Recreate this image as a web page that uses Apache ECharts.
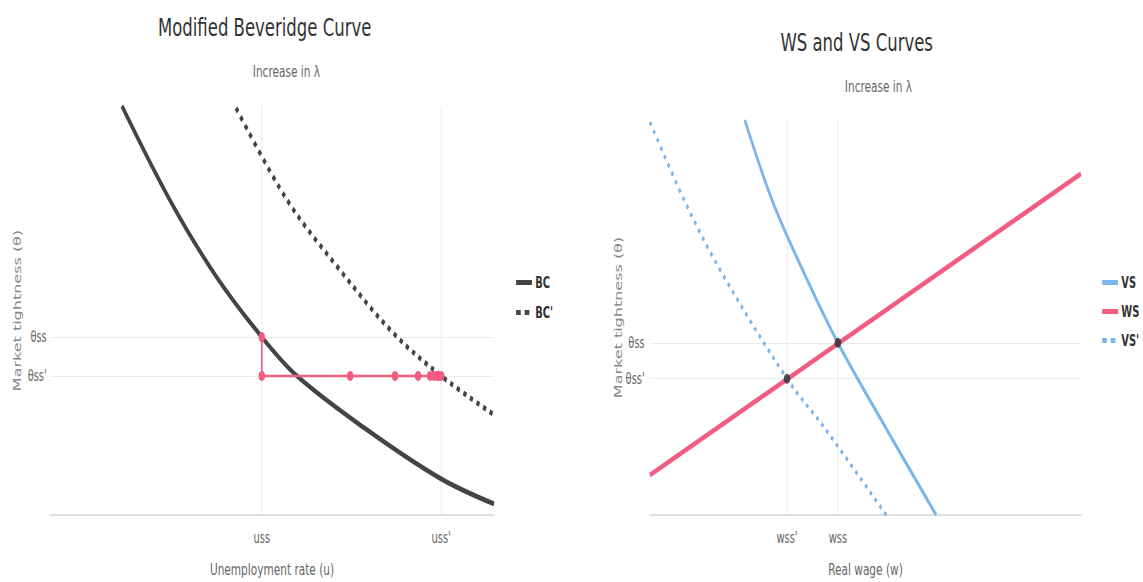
<!DOCTYPE html>
<html>
<head>
<meta charset="utf-8">
<script src="https://cdn.jsdelivr.net/npm/echarts@6/dist/echarts.min.js"></script>
<style>
html,body{margin:0;padding:0;background:#fff;overflow:hidden;}
#wrap{width:1143px;height:582px;overflow:hidden;position:relative;}
#main{width:1732px;height:582px;transform:scaleX(0.66);transform-origin:0 0;position:absolute;left:0;top:0;}
</style>
</head>
<body>
<div id="wrap"><div id="main"></div></div>
<script>
// ---------- Left chart: Modified Beveridge Curve ----------
const uTickValues = [4.77, 8.81];
const uTickLabels = ['uss', "uss'"];
const thetaTickValuesL = [4.35, 3.4];
const thetaTickLabelsL = ['θss', "θss'"];

const bcU     = [1.62, 2.70, 3.72, 4.77, 5.56, 7.05, 8.78, 10.0];
const bcTheta = [10.0, 7.70, 5.87, 4.35, 3.40, 2.15, 0.90, 0.27];

const bcPrimeU     = [4.19, 5.34, 6.53, 7.73, 8.81, 10.0];
const bcPrimeTheta = [9.95, 7.70, 5.99, 4.45, 3.40, 2.45];

const pathU     = [4.77, 4.77, 6.76, 7.77, 8.29, 8.56, 8.65, 8.72, 8.76, 8.81];
const pathTheta = [4.35, 3.40, 3.40, 3.40, 3.40, 3.40, 3.40, 3.40, 3.40, 3.40];

// ---------- Right chart: WS and VS Curves ----------
const wTickValues = [3.18, 4.36];
const wTickLabels = ["wss'", 'wss'];
const thetaTickValuesR = [4.36, 3.45];
const thetaTickLabelsR = ['θss', "θss'"];

const vsW     = [2.20, 2.83, 3.48, 4.36, 5.48, 6.64];
const vsTheta = [10.0, 7.98, 6.35, 4.36, 2.19, 0.0];

const wsW     = [0, 10];
const wsTheta = [1.01, 8.64];

const vsPrimeW     = [0, 0.79, 1.62, 3.18, 4.06, 5.48];
const vsPrimeTheta = [9.95, 7.98, 6.22, 3.45, 2.19, 0.0];

const eqW     = [4.36, 3.18];
const eqTheta = [4.36, 3.45];

// ---------- helpers ----------
const zip = (a, b) => a.map((v, i) => [v, b[i]]);
const labelFor = (vals, labels) => v => {
  for (let i = 0; i < vals.length; i++) if (Math.abs(vals[i] - v) < 1e-6) return labels[i];
  return '';
};

const FONT = '"DejaVu Sans",Verdana,sans-serif';
const GRID_COLOR = '#e6e6e6';
const AXIS_COLOR = '#dcdfe6';
const SOLID_ICON = 'path://M0,0h24v5h-24z';
const DOT_ICON = 'path://M0,0h7v5h-7z M13,0h7v5h-7z M23.9,2.4h0.1v0.1h-0.1z';

function makeX(gridIndex, vals, labels, name) {
  return {
    type: 'value', gridIndex, min: 0, max: 10,
    name, nameLocation: 'middle', nameGap: 46,
    nameTextStyle: { fontFamily: FONT, fontSize: 16, color: '#666' },
    axisLine: { show: true, onZero: false, lineStyle: { color: AXIS_COLOR, width: 2 } },
    axisTick: { show: false },
    splitLine: { show: false },
    axisLabel: {
      customValues: vals, formatter: labelFor(vals, labels),
      fontFamily: FONT, fontSize: 15, color: '#666', margin: 15
    }
  };
}
function makeY(gridIndex, vals, labels, gap, margin) {
  return {
    type: 'value', gridIndex, min: 0, max: 10,
    name: 'Market tightness (θ)', nameLocation: 'middle', nameGap: gap, nameRotate: 90,
    nameTextStyle: { fontFamily: FONT, fontSize: 16, color: '#888' },
    axisLine: { show: false }, axisTick: { show: false }, splitLine: { show: false },
    axisLabel: {
      customValues: vals, formatter: labelFor(vals, labels),
      fontFamily: FONT, fontSize: 15, color: '#666', margin
    }
  };
}
function gridLines(xi, yi, xs, ys) {
  return {
    type: 'line', xAxisIndex: xi, yAxisIndex: yi, data: [], z: 0, silent: true,
    markLine: {
      z: 0, silent: true, symbol: 'none', label: { show: false }, animation: false,
      lineStyle: { color: GRID_COLOR, width: 1, type: 'solid' },
      emphasis: { disabled: true },
      data: xs.map(v => ({ xAxis: v })).concat(ys.map(v => ({ yAxis: v })))
    }
  };
}

const chart = echarts.init(document.getElementById('main'), null, { renderer: 'svg' });
chart.setOption({
  animation: false,
  backgroundColor: '#ffffff',
  title: [
    { text: 'Modified Beveridge Curve', left: 396, top: 10, textAlign: 'center',
      textStyle: { fontFamily: FONT, fontSize: 25, fontWeight: 'normal', color: '#333' } },
    { text: 'Increase in λ', left: 429, top: 58, textAlign: 'center',
      textStyle: { fontFamily: FONT, fontSize: 16, fontWeight: 'normal', color: '#666' } },
    { text: 'WS and VS Curves', left: 1293, top: 25, textAlign: 'center',
      textStyle: { fontFamily: FONT, fontSize: 25, fontWeight: 'normal', color: '#333' } },
    { text: 'Increase in λ', left: 1326, top: 73, textAlign: 'center',
      textStyle: { fontFamily: FONT, fontSize: 16, fontWeight: 'normal', color: '#666' } }
  ],
  legend: [
    { data: [{ name: 'BC', icon: SOLID_ICON }, { name: "BC'", icon: DOT_ICON }],
      orient: 'vertical', left: 777, top: 270, itemGap: 15,
      itemWidth: 24, itemHeight: 5,
      itemStyle: { color: '#434348' },
      textStyle: { fontFamily: FONT, fontSize: 15, fontWeight: 'bold', color: '#333' } },
    { data: [{ name: 'VS', icon: SOLID_ICON, itemStyle: { color: '#7cb5ec' } },
             { name: 'WS', icon: SOLID_ICON, itemStyle: { color: '#f15c80' } },
             { name: "VS'", icon: DOT_ICON, itemStyle: { color: '#7cb5ec' } }],
      orient: 'vertical', left: 1665, top: 270, itemGap: 14,
      itemWidth: 24, itemHeight: 5,
      textStyle: { fontFamily: FONT, fontSize: 15, fontWeight: 'bold', color: '#333' } }
  ],
  grid: [
    { left: 75.8, top: 106, width: 672.7, height: 409 },
    { left: 984.8, top: 120, width: 653, height: 397 }
  ],
  xAxis: [
    makeX(0, uTickValues, uTickLabels, 'Unemployment rate (u)'),
    makeX(1, wTickValues, wTickLabels, 'Real wage (w)')
  ],
  yAxis: [
    makeY(0, thetaTickValuesL, thetaTickLabelsL, 42, 5),
    makeY(1, thetaTickValuesR, thetaTickLabelsR, 38, 8)
  ],
  series: [
    gridLines(0, 0, uTickValues, thetaTickValuesL),
    gridLines(1, 1, wTickValues, thetaTickValuesR),
    { name: 'BC', type: 'line', xAxisIndex: 0, yAxisIndex: 0, data: zip(bcU, bcTheta),
      smooth: 0.35, symbol: 'none', itemStyle: { color: '#434348' },
      lineStyle: { width: 5, color: '#434348' }, z: 3 },
    { name: "BC'", type: 'line', xAxisIndex: 0, yAxisIndex: 0, data: zip(bcPrimeU, bcPrimeTheta),
      smooth: 0.35, symbol: 'none', itemStyle: { color: '#434348' },
      lineStyle: { width: 5, color: '#434348', type: [5, 6], cap: 'butt' }, z: 3 },
    { name: 'Adjustment', type: 'line', xAxisIndex: 0, yAxisIndex: 0, data: zip(pathU, pathTheta),
      symbol: 'circle', symbolSize: 10, showAllSymbol: true,
      lineStyle: { width: 2.5, color: '#f15c80' }, itemStyle: { color: '#f15c80' }, z: 4 },
    { name: 'VS', type: 'line', xAxisIndex: 1, yAxisIndex: 1, data: zip(vsW, vsTheta),
      smooth: 0.35, symbol: 'none', itemStyle: { color: '#7cb5ec' },
      lineStyle: { width: 4, color: '#7cb5ec' }, z: 3 },
    { name: 'WS', type: 'line', xAxisIndex: 1, yAxisIndex: 1, data: zip(wsW, wsTheta),
      symbol: 'none', itemStyle: { color: '#f15c80' },
      lineStyle: { width: 5, color: '#f15c80' }, z: 3 },
    { name: "VS'", type: 'line', xAxisIndex: 1, yAxisIndex: 1, data: zip(vsPrimeW, vsPrimeTheta),
      smooth: 0.35, symbol: 'none', itemStyle: { color: '#7cb5ec' },
      lineStyle: { width: 4, color: '#7cb5ec', type: [4, 6], cap: 'butt' }, z: 3 },
    { name: 'Equilibrium', type: 'scatter', xAxisIndex: 1, yAxisIndex: 1, data: zip(eqW, eqTheta),
      symbol: 'circle', symbolSize: 10, itemStyle: { color: '#2b2b33' }, z: 5 }
  ]
});
</script>
</body>
</html>
